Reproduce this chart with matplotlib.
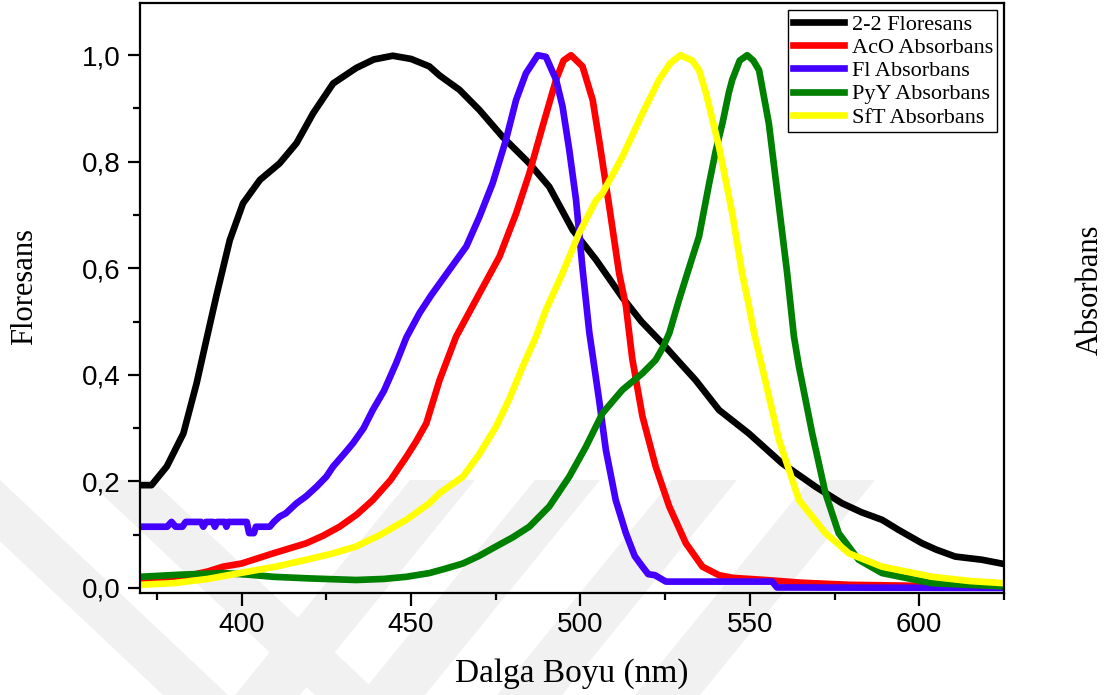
import matplotlib
matplotlib.use("Agg")
import matplotlib.pyplot as plt
from matplotlib.ticker import MultipleLocator, FuncFormatter
from matplotlib.patches import Polygon

# 2-2 Floresans
flo_x = [370, 373.4, 377.9, 382.8, 386.7, 389.6, 392.6, 396.5, 400.4, 405.4, 411.2, 416.2,
         421.1, 427.0, 433.8, 439, 444.6, 450, 455.4, 458.4, 464.3, 470.2, 477.0, 484.9,
         490.8, 497.7, 504.6, 512.4, 518, 524.2, 529, 534.0, 540.9, 549.7, 559.5, 569.4,
         577.2, 583, 589.0, 593.9, 600.8, 605, 610.6, 618.5, 625]
flo_y = [0.193, 0.193, 0.228, 0.29, 0.384, 0.466, 0.55, 0.653, 0.722, 0.766, 0.797, 0.835,
         0.891, 0.947, 0.976, 0.992, 0.999, 0.993, 0.979, 0.962, 0.935, 0.897, 0.847, 0.797,
         0.753, 0.672, 0.616, 0.545, 0.50, 0.459, 0.425, 0.39, 0.334, 0.29, 0.234, 0.190,
         0.159, 0.142, 0.128, 0.109, 0.084, 0.072, 0.059, 0.053, 0.045]

# AcO Absorbans
aco_x = [370, 375, 379.8, 385, 390, 394.5, 400, 409.3, 419.1, 424, 428.9, 434, 438.7, 444,
         448.6, 451.5, 454.5, 458.4, 463.3, 470.2, 476.1, 481, 484.9, 488.8, 492.8, 495,
         497.2, 500.6, 503.6, 505.5, 508.5, 511.4, 513.4, 515.3, 518.3, 522.2, 526.2, 531.1,
         536, 540.9, 545, 554.7, 565, 579.2, 600, 625]
aco_y = [0.012, 0.015, 0.018, 0.024, 0.031, 0.040, 0.046, 0.065, 0.084, 0.098, 0.115, 0.138,
         0.165, 0.203, 0.246, 0.275, 0.309, 0.39, 0.472, 0.553, 0.622, 0.703, 0.778, 0.866,
         0.954, 0.99, 1.0, 0.979, 0.916, 0.841, 0.716, 0.591, 0.53, 0.43, 0.322, 0.228,
         0.153, 0.084, 0.040, 0.024, 0.019, 0.015, 0.010, 0.006, 0.004, 0.003]

# Fl Absorbans
fl_x = [370, 378, 379.3, 380.5, 382.5, 383.5, 388, 388.7, 389.5, 391.5, 392.1, 392.8, 395,
        395.5, 396, 401.5, 402.2, 403.6, 404.2, 408.3, 409.5, 411.2, 413, 416.2, 419, 422.1,
        425, 427, 430, 432.9, 436, 438.7, 442, 445.6, 448.6, 452.5, 456, 461.3, 466.3,
        470.2, 474.1, 478, 481, 483.9, 487.4, 489.8, 492.8, 494.7, 496.7, 498.7, 500.6,
        502.6, 505.5, 507.5, 510.4, 513.4, 516, 518.3, 520, 522, 525.2, 556.6, 558, 625]
fl_y = [0.115, 0.115, 0.124, 0.115, 0.115, 0.124, 0.124, 0.115, 0.124, 0.124, 0.115, 0.124,
        0.124, 0.115, 0.124, 0.124, 0.103, 0.103, 0.115, 0.115, 0.124, 0.134, 0.14, 0.159,
        0.172, 0.19, 0.209, 0.228, 0.25, 0.272, 0.30, 0.334, 0.37, 0.422, 0.47, 0.516,
        0.55, 0.597, 0.641, 0.697, 0.760, 0.841, 0.916, 0.966, 1.0, 0.997, 0.954, 0.904,
        0.822, 0.728, 0.60, 0.48, 0.353, 0.259, 0.165, 0.103, 0.06, 0.040, 0.026, 0.024,
        0.012, 0.012, 0.001, 0.0]

# PyY Absorbans
pyy_x = [370, 382, 394.5, 402, 409.3, 420, 433.8, 442, 448.6, 455.4, 460, 465.3, 470, 475.1,
         480, 484.9, 490.8, 496.7, 501.6, 506.5, 512.4, 518.3, 522.2, 524.2, 526.2, 529.1,
         532, 535, 537.9, 539.9, 541.9, 543.8, 544.8, 547, 549.2, 551, 552.7, 555.6, 558.6,
         561, 563, 564.5, 568.4, 572.3, 576.2, 582.1, 589, 603.8, 625]
pyy_y = [0.021, 0.025, 0.028, 0.025, 0.021, 0.018, 0.015, 0.017, 0.021, 0.028, 0.036, 0.046,
         0.06, 0.078, 0.095, 0.115, 0.153, 0.209, 0.265, 0.328, 0.372, 0.403, 0.428, 0.45,
         0.478, 0.541, 0.60, 0.66, 0.757, 0.82, 0.872, 0.93, 0.954, 0.99, 1.0, 0.99, 0.972,
         0.872, 0.716, 0.591, 0.472, 0.415, 0.29, 0.178, 0.103, 0.053, 0.028, 0.009, 0.003]

# SfT Absorbans
sft_x = [370, 379.8, 390, 399.5, 410, 419.1, 427, 433.8, 441, 448.6, 455.4, 458.4, 465.3, 470,
         475.1, 479, 482.9, 486.9, 489.8, 494.7, 499.6, 504.6, 506.5, 512.4, 518.3, 523.2,
         526.5, 529.5, 533, 535, 537, 540.9, 544.8, 547.7, 549.7, 551.2, 553.6, 558.6, 564.5,
         572.3, 579.2, 589, 603.8, 615, 625]
sft_y = [0.006, 0.009, 0.017, 0.028, 0.04, 0.053, 0.065, 0.078, 0.10, 0.128, 0.159, 0.178,
         0.209, 0.25, 0.303, 0.355, 0.415, 0.472, 0.522, 0.591, 0.666, 0.728, 0.741, 0.810,
         0.891, 0.954, 0.985, 1.0, 0.99, 0.972, 0.93, 0.828, 0.703, 0.591, 0.53, 0.48,
         0.415, 0.278, 0.165, 0.103, 0.065, 0.040, 0.021, 0.013, 0.009]

W, H = 1113, 695
fig = plt.figure(figsize=(W / 100, H / 100), dpi=100)
ax = fig.add_axes([140 / W, 1 - 593 / H, 864 / W, 590 / H])
ax.set_facecolor("none")

# faint watermark in the background (pixel coords)
def stripe(x0, x1, dx):
    pts = [(x0, 480), (x1, 480), (x1 + dx, 695), (x0 + dx, 695)]
    return Polygon([(px / W, 1 - py / H) for px, py in pts], closed=True,
                   transform=fig.transFigure, facecolor="#f1f1f1", edgecolor="none", zorder=-1)

for x0, x1, dx in [(-65, 0, 228), (87, 152, 228), (410, 475, -175),
                   (535, 600, -175), (672, 737, -175), (810, 875, -175)]:
    fig.add_artist(stripe(x0, x1, dx))

lw = 4.8
ax.plot(flo_x, flo_y, color="black", lw=lw, label="2-2 Floresans")
ax.plot(aco_x, aco_y, color="#ff0000", lw=lw, label="AcO Absorbans")
ax.plot(fl_x, fl_y, color="#4400ff", lw=lw, label="Fl Absorbans")
ax.plot(pyy_x, pyy_y, color="#008000", lw=lw, label="PyY Absorbans")
ax.plot(sft_x, sft_y, color="#ffff00", lw=lw, label="SfT Absorbans")

ax.set_xlim(370, 625)
ax.set_ylim(-0.0094, 1.098)
ax.xaxis.set_major_locator(MultipleLocator(50))
ax.xaxis.set_minor_locator(MultipleLocator(25))
ax.yaxis.set_major_locator(MultipleLocator(0.2))
ax.yaxis.set_minor_locator(MultipleLocator(0.1))
ax.yaxis.set_major_formatter(FuncFormatter(lambda v, p: f"{v:.1f}".replace(".", ",")))

for s in ax.spines.values():
    s.set_linewidth(1.6)
ax.tick_params(which="both", direction="out", width=1.6, top=False, right=False)
ax.tick_params(which="major", length=9, labelsize=20, pad=5)
ax.tick_params(which="minor", length=5)
for lab in ax.get_xticklabels() + ax.get_yticklabels():
    lab.set_family("Liberation Sans")

ax.set_xlabel("Dalga Boyu (nm)", family="Liberation Serif", fontsize=24)
ax.xaxis.set_label_coords(0.5, -0.11)
ax.set_ylabel("Floresans", family="Liberation Serif", fontsize=22)
ax.yaxis.set_label_coords(-0.117, 0.52)
fig.text(1090 / W, 1 - 290 / H, "Absorbans", family="Liberation Serif", fontsize=22,
         rotation=90, ha="center", va="center")

leg = ax.legend(loc="upper right", prop={"family": "Liberation Serif", "size": 16},
                frameon=True, fancybox=False, edgecolor="black", framealpha=1,
                borderaxespad=0.3, borderpad=0.2, labelspacing=0.12,
                handlelength=2.3, handletextpad=0.35)
leg.get_frame().set_linewidth(1.0)

fig.savefig("out.png", dpi=100)
